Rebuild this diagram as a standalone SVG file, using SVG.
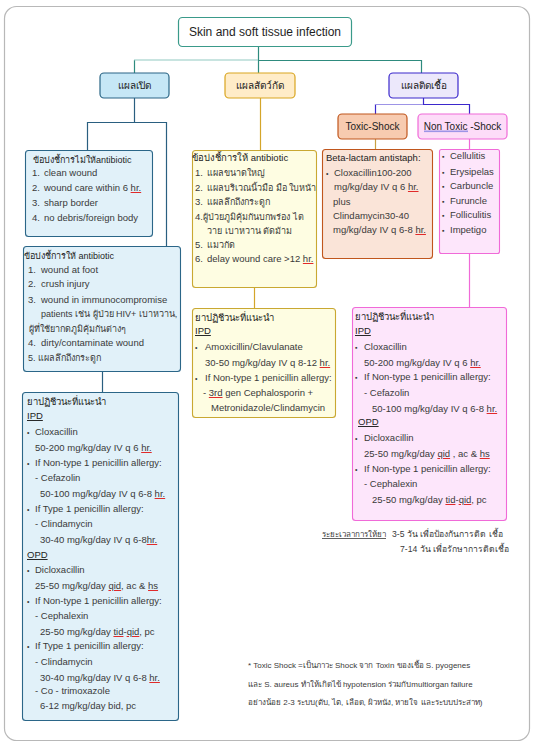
<svg xmlns="http://www.w3.org/2000/svg" width="533" height="747" viewBox="0 0 533 747">
<style>
.t{font-family:"Liberation Sans","Noto Sans","DejaVu Sans",sans-serif;font-size:9.5px;fill:#3a3a3a}
.h{fill:#1e1e1e}
.u{text-decoration:underline}
.sp{fill:#e02020;text-decoration:underline}
.in{fill:#3a3a3a;text-decoration:none}
.lbl{font-size:10px;fill:#222;text-anchor:middle}
.ttl{font-size:12px;fill:#1e1e1e;text-anchor:middle}
.th{font-size:9px}
.sm{font-size:8px}
.md{font-size:8.6px}
.cn{fill:none;stroke-width:1.2}
.bl{font-size:7px}
</style>
<rect x="0" y="0" width="533" height="747" fill="#ffffff"/>
<rect x="4.5" y="6.5" width="525" height="734" rx="12" fill="#ffffff" stroke="#b8b8b8" stroke-width="1.2"/>

<g id="connectors">
  <path class="cn" stroke="#2e8b7e" d="M258.5,46 V73 M258,60.5 H421.5 M134.5,60 V73 M421.5,60 V73"/>
  <path class="cn" stroke="#92c9c1" stroke-width="2" d="M134,60 H258"/>
  <path class="cn" stroke="#2a5f80" d="M134.5,98 V122.5 M87,122.5 H166.5 M87.5,122 V150 M166.5,122 V246 M102.5,372 V392"/>
  <path class="cn" stroke="#d4a52a" d="M260.5,98 V150 M254.5,288 V308"/>
  <path class="cn" stroke="#3b28cc" d="M423.5,98 V104.5 M423,104.5 H469.5 M375.5,104 V114 M469.5,104 V114"/>
  <path class="cn" stroke="#9d94e6" stroke-width="2" d="M375,104.5 H423"/>
  <path class="cn" stroke="#c8a040" d="M375.5,139 V149"/>
  <path class="cn" stroke="#f06ad8" d="M469.5,139 V149 M469.5,254 V307"/>
</g>

<g id="title">
  <rect x="178.5" y="17.5" width="173" height="29" rx="4" fill="#ffffff" stroke="#3a9a8a" stroke-width="1.2"/>
  <text class="t ttl" x="265" y="36">Skin and  soft tissue infection</text>
</g>

<g id="open-wound">
  <rect x="100" y="73" width="69" height="25" rx="4" fill="#c6e7f6" stroke="#2a6585" stroke-width="1.2"/>
  <text class="t lbl" x="134.5" y="89">แผลเปิด</text>
</g>
<g id="animal-bite">
  <rect x="225" y="73" width="70" height="25" rx="4" fill="#ffecc8" stroke="#d9a520" stroke-width="1.2"/>
  <text class="t lbl" x="260" y="89">แผลสัตว์กัด</text>
</g>
<g id="infected-wound">
  <rect x="389" y="73" width="69" height="25" rx="4" fill="#ece8fb" stroke="#3b28cc" stroke-width="1.2"/>
  <text class="t lbl" x="423.5" y="89">แผลติดเชื้อ</text>
</g>
<g id="toxic-shock">
  <rect x="338" y="114" width="69" height="25" rx="4" fill="#f7cbb0" stroke="#c0561d" stroke-width="1.2"/>
  <text class="t lbl" x="372.5" y="129.5">Toxic-Shock</text>
</g>
<g id="non-toxic-shock">
  <rect x="418" y="114" width="89" height="25" rx="4" fill="#fddcf8" stroke="#f06ad8" stroke-width="1.2"/>
  <rect x="424" y="130.5" width="44" height="1.6" fill="#9d94e6"/>
  <text class="t lbl" x="462.5" y="129.5">Non Toxic  -Shock</text>
</g>

<g id="no-antibiotic">
  <rect x="25.5" y="150.5" width="127" height="86" rx="3" fill="#e1f1f9" stroke="#2b6688" stroke-width="1.1"/>
  <text class="t h th" x="33" y="163">ข้อบ่งชี้การไม่ให้antibiotic</text>
  <text class="t" y="176"><tspan x="32">1.</tspan><tspan x="44">clean wound</tspan></text>
  <text class="t" y="191"><tspan x="32">2.</tspan><tspan x="44">wound care within  6 </tspan><tspan class="sp"><tspan class="in">hr.</tspan></tspan></text>
  <text class="t" y="206"><tspan x="32">3.</tspan><tspan x="44">sharp  border</tspan></text>
  <text class="t" y="221"><tspan x="32">4.</tspan><tspan x="44">no debris/foreign  body</tspan></text>
</g>

<g id="give-antibiotic-open">
  <rect x="23.5" y="246.5" width="157" height="125" rx="3" fill="#e1f1f9" stroke="#2b6688" stroke-width="1.1"/>
  <text class="t h th" x="24" y="259">ข้อบ่งชี้การให้ antibiotic</text>
  <text class="t" y="273"><tspan x="28">1.</tspan><tspan x="41">wound at foot</tspan></text>
  <text class="t" y="287"><tspan x="28">2.</tspan><tspan x="41">crush injury</tspan></text>
  <text class="t" y="303"><tspan x="28">3.</tspan><tspan x="41">wound in immunocompromise</tspan></text>
  <text class="t th" x="41" y="317">patients  เช่น ผู้ป่วย HIV+ เบาหวาน,</text>
  <text class="t th" x="29" y="332">ผู้ที่ใช้ยากดภูมิคุ้มกันต่างๆ</text>
  <text class="t" y="346"><tspan x="28">4.</tspan><tspan x="41">dirty/contaminate  wound</tspan></text>
  <text class="t th" x="28" y="361">5. แผลลึกถึงกระดูก</text>
</g>

<g id="drugs-open">
  <rect x="22.5" y="392.5" width="156" height="328" rx="3" fill="#e1f1f9" stroke="#2b6688" stroke-width="1.1"/>
  <text class="t h" x="27" y="405">ยาปฏิชีวนะที่แนะนำ</text>
  <text class="t h u" x="27" y="419">IPD</text>
  <text class="t" y="435"><tspan x="27" class="bl">•</tspan><tspan x="35">Cloxacillin</tspan></text>
  <text class="t" x="35" y="451">50-200 mg/kg/day  IV  q  6 <tspan class="sp"><tspan class="in">hr.</tspan></tspan></text>
  <text class="t" y="466"><tspan x="27" class="bl">•</tspan><tspan x="35">If Non-type 1 penicillin allergy:</tspan></text>
  <text class="t" x="35" y="481">- Cefazolin</text>
  <text class="t" x="40" y="497">50-100 mg/kg/day  IV  q 6-8 <tspan class="sp"><tspan class="in">hr.</tspan></tspan></text>
  <text class="t" y="512"><tspan x="27" class="bl">•</tspan><tspan x="35">If Type 1 penicillin allergy:</tspan></text>
  <text class="t" x="35" y="527">- Clindamycin</text>
  <text class="t" x="40" y="543">30-40 mg/kg/day  IV  q  6-8<tspan class="sp"><tspan class="in">hr.</tspan></tspan></text>
  <text class="t h u" x="27" y="558">OPD</text>
  <text class="t" y="573"><tspan x="27" class="bl">•</tspan><tspan x="35">Dicloxacillin</tspan></text>
  <text class="t" x="35" y="589">25-50 mg/kg/day  <tspan class="sp"><tspan class="in">qid</tspan></tspan>, ac &amp; <tspan class="sp"><tspan class="in">hs</tspan></tspan></text>
  <text class="t" y="604"><tspan x="27" class="bl">•</tspan><tspan x="35">If Non-type 1 penicillin allergy:</tspan></text>
  <text class="t" x="35" y="619">- Cephalexin</text>
  <text class="t" x="40" y="635">25-50 mg/kg/day  <tspan class="sp"><tspan class="in">tid</tspan></tspan>-<tspan class="sp"><tspan class="in">qid</tspan></tspan>, pc</text>
  <text class="t" y="649"><tspan x="27" class="bl">•</tspan><tspan x="35">If Type 1 penicillin allergy:</tspan></text>
  <text class="t" x="35" y="665">- Clindamycin</text>
  <text class="t" x="40" y="681">30-40 mg/kg/day  IV  q  6-8 <tspan class="sp"><tspan class="in">hr.</tspan></tspan></text>
  <text class="t" x="35" y="694">- Co - trimoxazole</text>
  <text class="t" x="40" y="709">6-12 mg/kg/day  bid, pc</text>
</g>

<g id="give-antibiotic-bite">
  <rect x="192.5" y="150.5" width="124" height="137" rx="3" fill="#fefde2" stroke="#c9a832" stroke-width="1.1"/>
  <text class="t h" x="192" y="161">ข้อบ่งชี้การให้ antibiotic</text>
  <text class="t" y="176"><tspan x="195">1.</tspan><tspan x="207" class="th">แผลขนาดใหญ่</tspan></text>
  <text class="t" y="191"><tspan x="195">2.</tspan><tspan x="207" class="th">แผลบริเวณนิ้วมือ มือ ใบหน้า</tspan></text>
  <text class="t" y="205"><tspan x="195">3.</tspan><tspan x="207" class="th">แผลลึกถึงกระดูก</tspan></text>
  <text class="t" y="220"><tspan x="195">4.</tspan><tspan x="203" class="th">ผู้ป่วยภูมิคุ้มกันบกพร่อง ไต</tspan></text>
  <text class="t th" x="207" y="234">วาย เบาหวาน ตัดม้าม</text>
  <text class="t" y="248"><tspan x="195">5.</tspan><tspan x="207" class="th">แมวกัด</tspan></text>
  <text class="t" y="262"><tspan x="195">6.</tspan><tspan x="207">delay wound care &gt;12 </tspan><tspan class="sp"><tspan class="in">hr.</tspan></tspan></text>
</g>

<g id="drugs-bite">
  <rect x="192.5" y="308.5" width="143" height="109" rx="3" fill="#fefde2" stroke="#c9a832" stroke-width="1.1"/>
  <text class="t h" x="195" y="321">ยาปฏิชีวนะที่แนะนำ</text>
  <text class="t h u" x="195" y="334">IPD</text>
  <text class="t" y="350"><tspan x="195" class="bl">•</tspan><tspan x="205">Amoxicillin/Clavulanate</tspan></text>
  <text class="t" x="205" y="366">30-50 mg/kg/day  IV  q  8-12 <tspan class="sp"><tspan class="in">hr.</tspan></tspan></text>
  <text class="t" y="381"><tspan x="195" class="bl">•</tspan><tspan x="205">If Non-type 1 penicillin allergy:</tspan></text>
  <text class="t" x="203" y="396">- <tspan class="sp"><tspan class="in">3rd</tspan></tspan> gen Cephalosporin +</text>
  <text class="t" x="211" y="411">Metronidazole/Clindamycin</text>
</g>

<g id="toxic-treatment">
  <rect x="322.5" y="149.5" width="110" height="109" rx="3" fill="#fae4d8" stroke="#c0561d" stroke-width="1.1"/>
  <text class="t h" x="326" y="161">Beta-lactam  antistaph:</text>
  <text class="t" y="176"><tspan x="326" class="bl">•</tspan><tspan x="334">Cloxacillin100-200</tspan></text>
  <text class="t" x="334" y="190">mg/kg/day  IV  q  6  <tspan class="sp"><tspan class="in">hr.</tspan></tspan></text>
  <text class="t" x="333" y="205">plus</text>
  <text class="t" x="333" y="219">Clindamycin30-40</text>
  <text class="t" x="333" y="233">mg/kg/day  IV  q  6-8  <tspan class="sp"><tspan class="in">hr.</tspan></tspan></text>
</g>

<g id="non-toxic-types">
  <rect x="439.5" y="149.5" width="60" height="104" rx="2" fill="#fde6fb" stroke="#f06ad8" stroke-width="1.1"/>
  <text class="t" y="159"><tspan x="442" class="bl">▪</tspan><tspan x="450">Cellulitis</tspan></text>
  <text class="t" y="175"><tspan x="442" class="bl">▪</tspan><tspan x="450">Erysipelas</tspan></text>
  <text class="t" y="189"><tspan x="442" class="bl">▪</tspan><tspan x="450">Carbuncle</tspan></text>
  <text class="t" y="204"><tspan x="442" class="bl">▪</tspan><tspan x="450">Furuncle</tspan></text>
  <text class="t" y="218"><tspan x="442" class="bl">▪</tspan><tspan x="450">Folliculitis</tspan></text>
  <text class="t" y="233"><tspan x="442" class="bl">▪</tspan><tspan x="450">Impetigo</tspan></text>
</g>

<g id="drugs-non-toxic">
  <rect x="352.5" y="307.5" width="154" height="213" rx="3" fill="#fde6fb" stroke="#f06ad8" stroke-width="1.1"/>
  <text class="t h" x="355" y="320">ยาปฏิชีวนะที่แนะนำ</text>
  <text class="t h u" x="355" y="334">IPD</text>
  <text class="t" y="350"><tspan x="355" class="bl">▪</tspan><tspan x="364">Cloxacillin</tspan></text>
  <text class="t" x="364" y="366">50-200 mg/kg/day  IV  q  6  <tspan class="sp"><tspan class="in">hr.</tspan></tspan></text>
  <text class="t" y="380"><tspan x="355" class="bl">▪</tspan><tspan x="364">If Non-type 1 penicillin allergy:</tspan></text>
  <text class="t" x="364" y="396">- Cefazolin</text>
  <text class="t" x="372" y="412">50-100 mg/kg/day  IV  q 6-8 <tspan class="sp"><tspan class="in">hr.</tspan></tspan></text>
  <text class="t h u" x="358" y="425">OPD</text>
  <text class="t" y="441"><tspan x="355" class="bl">•</tspan><tspan x="364">Dicloxacillin</tspan></text>
  <text class="t" x="364" y="457">25-50 mg/kg/day  <tspan class="sp"><tspan class="in">qid</tspan></tspan> , ac &amp; <tspan class="sp"><tspan class="in">hs</tspan></tspan></text>
  <text class="t" y="472"><tspan x="355" class="bl">•</tspan><tspan x="364">If Non-type 1 penicillin allergy:</tspan></text>
  <text class="t" x="364" y="487">- Cephalexin</text>
  <text class="t" x="372" y="503">25-50 mg/kg/day  <tspan class="sp"><tspan class="in">tid</tspan></tspan>-<tspan class="sp"><tspan class="in">qid</tspan></tspan>, pc</text>
</g>

<g id="duration-note">
  <text class="t sm" y="537"><tspan x="322" class="u">ระยะเวลาการให้ยา</tspan><tspan x="392" class="md">3-5 วัน เพื่อป้องกันการติด เชื้อ</tspan></text>
  <text class="t md" x="400" y="552">7-14 วัน เพื่อรักษาการติดเชื้อ</text>
</g>

<g id="footnote">
  <text class="t sm" x="248" y="668">* Toxic Shock =เป็นภาวะ Shock จาก Toxin ของเชื้อ S. pyogenes</text>
  <text class="t sm" x="248" y="687">และ S. aureus  ทำให้เกิดไข้ hypotension ร่วมกับmultiorgan  failure</text>
  <text class="t sm" x="248" y="705">อย่างน้อย 2-3 ระบบ(ตับ, ไต, เลือด, ผิวหนัง, หายใจ  และระบบประสาท)</text>
</g>
</svg>
